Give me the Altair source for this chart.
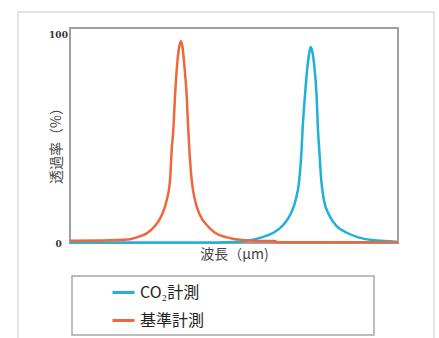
import altair as alt
import pandas as pd

# Reference series (基準計測) - wavelength position (arbitrary 0-100) and transmittance %
ref_x = [0, 10, 18.3, 20.3, 23.4, 25.9, 28.0, 29.5, 30.5, 31.0, 31.5, 32.0, 32.7, 33.3, 33.8,
         34.3, 34.8, 35.6, 36.0, 36.4, 37.1, 38.1, 39.6, 41.7, 44.2, 47.8, 51.8, 57.9, 62.5,
         63.1, 100]
ref_y = [1.1, 1.2, 1.8, 2.7, 4.6, 8.1, 13.4, 20.6, 30.1, 44.5, 54.1, 69.9, 86.1, 94.0, 96.7,
         94.0, 86.1, 69.9, 56.0, 44.5, 30.1, 20.6, 13.4, 8.6, 4.9, 2.7, 1.6, 1.0, 0.9,
         0.3, 0.3]

# CO2 series (CO₂計測)
co2_x = [0, 40, 49.7, 56.4, 58.4, 62.0, 65.0, 67.1, 68.8, 69.9, 70.6, 70.9, 71.6, 72.5, 73.0,
         73.4, 73.9, 74.4, 75.2, 75.6, 76.0, 76.6, 77.4, 79.0, 81.3, 84.4, 87.9, 92.0, 98.5, 100]
co2_y = [0.2, 0.2, 0.5, 1.8, 2.7, 4.9, 8.6, 13.4, 20.6, 30.1, 44.5, 54.1, 70.0, 86.0, 91.5,
         93.9, 91.5, 86.0, 70.0, 54.1, 44.5, 30.1, 20.6, 13.4, 8.1, 4.9, 2.7, 1.4, 0.7, 0.5]

series_names = ["CO₂計測", "基準計測"]
series_colors = ["#1FB1D9", "#F0663D"]

df = pd.concat([
    pd.DataFrame({"x": co2_x, "y": co2_y, "series": series_names[0], "order": range(len(co2_x))}),
    pd.DataFrame({"x": ref_x, "y": ref_y, "series": series_names[1], "order": range(len(ref_x))}),
])

FONT = "Noto Sans CJK JP"

lines = alt.Chart(df).mark_line(strokeWidth=2.5, interpolate="monotone").encode(
    x=alt.X("x:Q", scale=alt.Scale(domain=[0, 100], nice=False),
            axis=alt.Axis(title="波長（μm)", labels=False, ticks=False, domain=False, grid=False,
                          titleFont=FONT, titleFontSize=14, titleFontWeight="normal",
                          titleColor="#444444", titlePadding=4)),
    y=alt.Y("y:Q", scale=alt.Scale(domain=[0, 103], nice=False),
            axis=alt.Axis(title="透過率（%）", values=[0, 100], ticks=False, domain=False, grid=False,
                          labelFont="DejaVu Serif", labelFontWeight="bold", labelFontSize=9,
                          labelColor="#333333", labelAlign="center", labelPadding=12,
                          titleFont=FONT, titleFontSize=14, titleFontWeight="normal",
                          titleColor="#444444", titleAngle=-90, titleAlign="center",
                          titleBaseline="middle", titleX=-14, titleY=114)),
    color=alt.Color("series:N",
                    scale=alt.Scale(domain=series_names, range=series_colors),
                    legend=alt.Legend(title=None, orient="none", legendX=41, legendY=252,
                                      symbolType="stroke", symbolSize=484, symbolStrokeWidth=3,
                                      labelFont=FONT, labelFontSize=16, labelColor="#222222",
                                      labelOffset=4, rowPadding=7, padding=0)),
    order="order:Q",
)

frame_df = pd.DataFrame({"k": [0]})
outer = alt.Chart(frame_df).mark_rect(fill=None, stroke="#DADADA", strokeWidth=1.5).encode(
    x=alt.value(-52), x2=alt.value(364), y=alt.value(-16), y2=alt.value(325))
legend_box = alt.Chart(frame_df).mark_rect(fill="white", stroke="#A8A8A8", strokeWidth=1.5).encode(
    x=alt.value(2), x2=alt.value(304), y=alt.value(248), y2=alt.value(307))

chart = alt.layer(outer, legend_box, lines).properties(
    width=328, height=215,
    autosize=alt.AutoSizeParams(type="none"),
    padding={"left": 70, "top": 28, "right": 41, "bottom": 95},
    background="white",
).configure_view(stroke="#A0A0A0", strokeWidth=2)

chart.save("out.html", embed_options={"renderer": "svg", "actions": False})
